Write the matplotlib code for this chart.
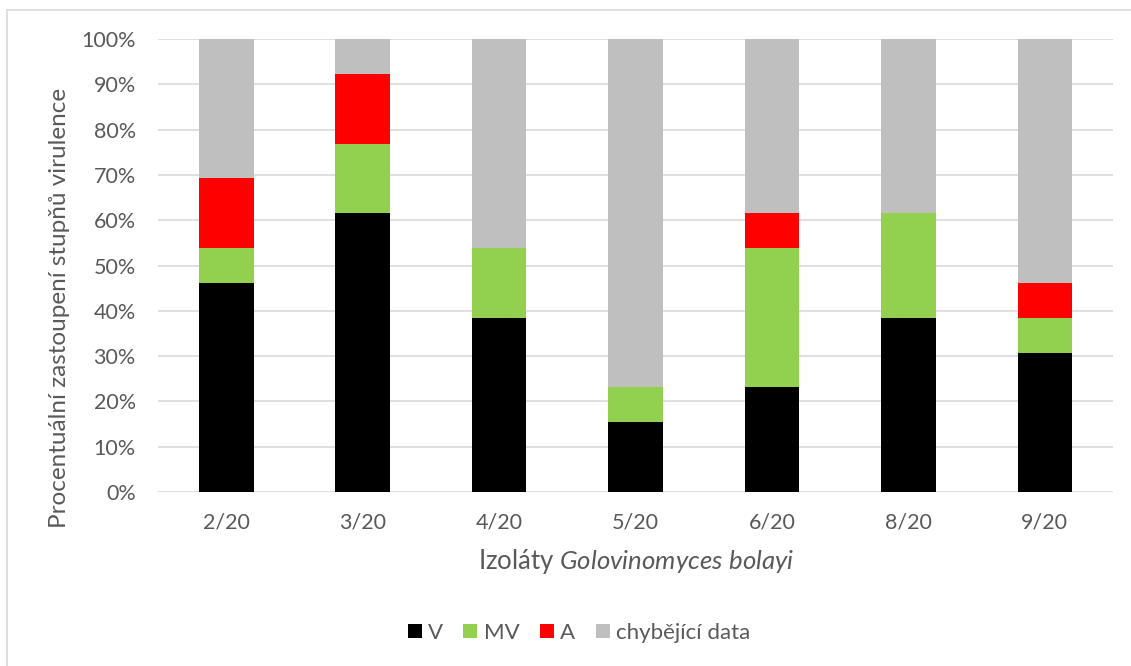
import matplotlib
matplotlib.use("Agg")
import matplotlib.pyplot as plt
from matplotlib.lines import Line2D
from matplotlib.ticker import FuncFormatter, MultipleLocator

categories = ["2/20", "3/20", "4/20", "5/20", "6/20", "8/20", "9/20"]
v = [46.15, 61.54, 38.46, 15.38, 23.08, 38.46, 30.77]
mv = [7.69, 15.38, 15.38, 7.69, 30.77, 23.08, 7.69]
a = [15.38, 15.38, 0.0, 0.0, 7.69, 0.0, 7.69]
missing = [30.78, 7.70, 46.16, 76.93, 38.46, 38.46, 53.85]
series_names = ["V", "MV", "A", "chybějící data"]
colors = ["#000000", "#92D050", "#FF0000", "#BFBFBF"]

plt.rcParams['font.family'] = ['Lato', 'DejaVu Sans']
plt.rcParams['mathtext.fontset'] = 'custom'
plt.rcParams['mathtext.rm'] = 'Lato'
plt.rcParams['mathtext.it'] = 'Lato:italic'
txt = "#595959"

fig = plt.figure(figsize=(11.31, 6.66), dpi=100)
W, H = 1131, 666
ax = fig.add_axes([158 / W, 1 - 492 / H, (1113 - 158) / W, (492 - 39) / H])

x = list(range(len(categories)))
bottom = [0.0] * len(categories)
for vals, name, c in zip([v, mv, a, missing], series_names, colors):
    ax.bar(x, vals, width=0.4, bottom=bottom, color=c, label=name, zorder=3)
    bottom = [b + q for b, q in zip(bottom, vals)]

ax.set_xlim(-0.5, len(categories) - 0.5)
ax.set_ylim(0, 100)
ax.yaxis.set_major_locator(MultipleLocator(10))
ax.yaxis.set_major_formatter(FuncFormatter(lambda y, p: f"{int(round(y))}%"))
ax.set_xticks(x)
ax.set_xticklabels(categories)
ax.grid(axis='y', color="#D9D9D9", linewidth=1.2, zorder=0)
for s in ax.spines.values():
    s.set_visible(False)
ax.tick_params(axis='both', length=0, labelsize=15.5, labelcolor=txt)
ax.tick_params(axis='y', pad=16)
ax.tick_params(axis='x', pad=15)

ax.set_ylabel("Procentuální zastoupení stupňů virulence", fontsize=17.5, color=txt)
ax.yaxis.set_label_coords((60 - 158) / 955, (492 - 308) / 453)
ax.set_xlabel("Izoláty $\\mathit{Golovinomyces\\ bolayi}$", fontsize=18.5, color=txt)
ax.xaxis.set_label_coords((636 - 158) / 955, (492 - 562) / 453)
ax.xaxis.label.set_va('center')
ax.yaxis.label.set_va('center')

leg = fig.legend(loc='center', bbox_to_anchor=(579 / W, 1 - 633 / H), ncol=4, frameon=False,
                 fontsize=16, handlelength=0.63, handleheight=0.63, handletextpad=0.3,
                 columnspacing=0.9, labelcolor=txt)

# chart border (top and left visible)
fig.add_artist(Line2D([7 / W, 7 / W], [0, 1 - 10 / H], color="#D9D9D9", lw=1.2, transform=fig.transFigure))
fig.add_artist(Line2D([7 / W, 1], [1 - 10 / H, 1 - 10 / H], color="#D9D9D9", lw=1.2, transform=fig.transFigure))

fig.savefig("out.png", dpi=100)
